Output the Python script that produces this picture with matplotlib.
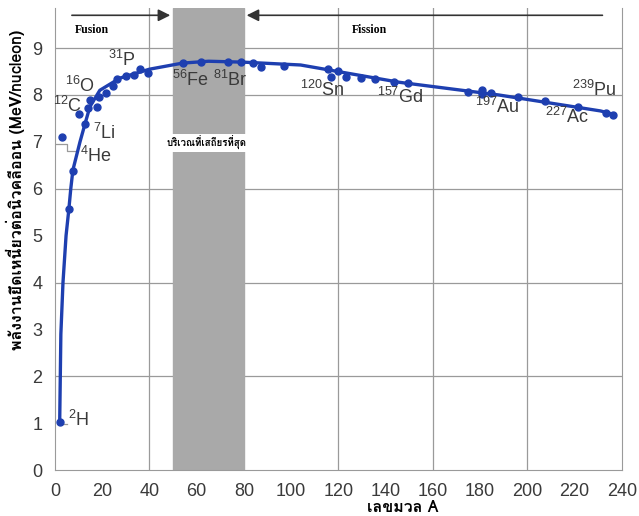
import numpy as np
import matplotlib
matplotlib.use('Agg')
import matplotlib.pyplot as plt
from matplotlib import font_manager
from matplotlib.ft2font import FT2Font

# นิวไคลด์ที่วัดได้ (จุด) : เลขมวล A, พลังงานยึดเหนี่ยวต่อนิวคลีออน
dot_A = [2, 3, 6, 7.6, 10.2, 12.7, 14.0, 14.8, 17.8, 18.6, 21.6, 24.6, 26.2, 30.1, 33.4, 36.0, 39.4,
         54.2, 61.8, 73.2, 78.7, 83.8, 87.2, 96.9, 115.6, 116.8, 119.8, 123.2, 129.5, 135.4, 143.5, 149.4,
         174.8, 180.7, 180.7, 184.6, 196.0, 207.4, 221.4, 233.2, 236.2]
dot_B = [1.02, 7.1, 5.57, 6.37, 7.59, 7.38, 7.72, 7.89, 7.74, 7.95, 8.04, 8.19, 8.34, 8.40, 8.42, 8.55, 8.46,
         8.68, 8.70, 8.70, 8.70, 8.68, 8.59, 8.61, 8.55, 8.38, 8.51, 8.38, 8.36, 8.34, 8.27, 8.25,
         8.06, 8.10, 8.02, 8.04, 7.95, 7.87, 7.74, 7.61, 7.57]

# เส้นโค้ง
curve_A = [2, 2.5, 3.4, 4.7, 5.9, 6.7, 7.6, 10.6, 12.7, 14.8, 19, 27.5, 40, 54, 65, 80, 104, 146, 188, 231, 237]
curve_B = [1.0, 2.9, 4.0, 5.0, 5.57, 6.0, 6.4, 7.0, 7.38, 7.75, 8.1, 8.36, 8.55, 8.68, 8.72, 8.70, 8.64, 8.27, 8.0, 7.66, 7.58]

# ป้ายชื่อนิวไคลด์
labels = [r'$^{2}$H', r'$^{4}$He', r'$^{7}$Li', r'$^{12}$C', r'$^{16}$O', r'$^{31}$P', r'$^{56}$Fe', r'$^{81}$Br',
          r'$^{120}$Sn', r'$^{157}$Gd', r'$^{197}$Au', r'$^{227}$Ac', r'$^{239}$Pu']
label_A = [5.5, 10.6, 16, 11.3, 4.2, 22.4, 49.5, 67, 103.7, 136.3, 178, 207.4, 218.8]
label_B = [1.07, 6.7, 7.2, 7.76, 8.2, 8.75, 8.32, 8.32, 8.1, 7.95, 7.74, 7.53, 8.1]

# หาฟอนต์ที่มีอักษรไทย
thai_font = 'DejaVu Sans'
for f in font_manager.fontManager.ttflist:
    try:
        if 0x0E1E in FT2Font(f.fname).get_charmap():
            thai_font = f.name
            break
    except Exception:
        pass

plt.rcParams['font.family'] = ['Liberation Sans', 'DejaVu Sans']
plt.rcParams['mathtext.default'] = 'regular'

blue = '#1e3fb0'
grid_c = '#9a9a9a'
txt_c = '#3a3a3a'

fig = plt.figure(figsize=(6.39, 5.16), dpi=100)
ax = fig.add_axes([0.086, 0.089, 0.887, 0.895])
ax.set_xlim(0, 240)
ax.set_ylim(0, 9.85)

# แถบสีเทา (บริเวณที่เสถียรที่สุด)
ax.axvspan(50, 80, color='#a9a9a9', zorder=1)

for y in [2, 4, 6, 8, 9]:
    ax.axhline(y, color=grid_c, lw=0.9, zorder=0)
for x in [40, 120, 160, 200]:
    ax.axvline(x, color=grid_c, lw=0.9, zorder=0)

ax.plot(curve_A, curve_B, color=blue, lw=2.4, zorder=3)
ax.plot(dot_A, dot_B, 'o', color=blue, ms=5, zorder=4)

for s, x, y in zip(labels, label_A, label_B):
    ha = 'right' if s.endswith('C') else 'left'
    ax.text(x, y, s, fontsize=13, color=txt_c, ha=ha, va='center', zorder=5)

# เส้นชี้ของ 4He และ 2H
ax.plot([0.5, 5, 5, 8.5], [6.95, 6.95, 6.8, 6.8], color=grid_c, lw=0.9, zorder=2)
ax.plot([2, 5], [0.98, 0.98], color=grid_c, lw=0.9, zorder=2)

# ลูกศร Fusion / Fission
ax.annotate('', xy=(50, 9.7), xytext=(6, 9.7),
            arrowprops=dict(arrowstyle='-|>', color='#333333', lw=1.2, mutation_scale=18), annotation_clip=False)
ax.annotate('', xy=(80, 9.7), xytext=(233, 9.7),
            arrowprops=dict(arrowstyle='-|>', color='#333333', lw=1.2, mutation_scale=18), annotation_clip=False)
ax.text(8.5, 9.38, 'Fusion', fontsize=8.5, fontweight='bold', family='Liberation Serif', va='center')
ax.text(125.7, 9.38, 'Fission', fontsize=8.5, fontweight='bold', family='Liberation Serif', va='center')

ax.text(64, 6.97, 'บริเวณที่เสถียรที่สุด', fontsize=7, fontweight='bold', family=[thai_font, 'DejaVu Sans'],
        ha='center', va='center', zorder=5,
        bbox=dict(facecolor='white', edgecolor='none', pad=1.5))

ax.set_xticks(np.arange(0, 241, 20))
ax.set_yticks(np.arange(0, 10, 1))
ax.tick_params(axis='x', length=0, labelsize=13, labelcolor=txt_c, pad=9)
ax.tick_params(axis='y', length=0, labelsize=13, labelcolor=txt_c, pad=9)
ax.set_xticks(np.arange(20, 240, 40), minor=True)
ax.set_yticks([1, 3, 5, 7], minor=True)
ax.tick_params(which='minor', direction='in', length=14, color=grid_c, width=0.9)

for side in ['left', 'bottom', 'right']:
    ax.spines[side].set_color(grid_c)
ax.spines['top'].set_visible(False)

ax.set_xlabel('เลขมวล A', fontsize=11.5, fontweight='bold', family=[thai_font, 'Liberation Serif'])
ax.set_ylabel('พลังงานยึดเหนี่ยวต่อนิวคลีออน (MeV/nucleon)', fontsize=11.5, fontweight='bold',
              family=[thai_font, 'Liberation Serif'])
ax.xaxis.set_label_coords(0.614, -0.064)
ax.yaxis.set_label_coords(-0.052, 0.606)

fig.savefig('out.png', dpi=100)
